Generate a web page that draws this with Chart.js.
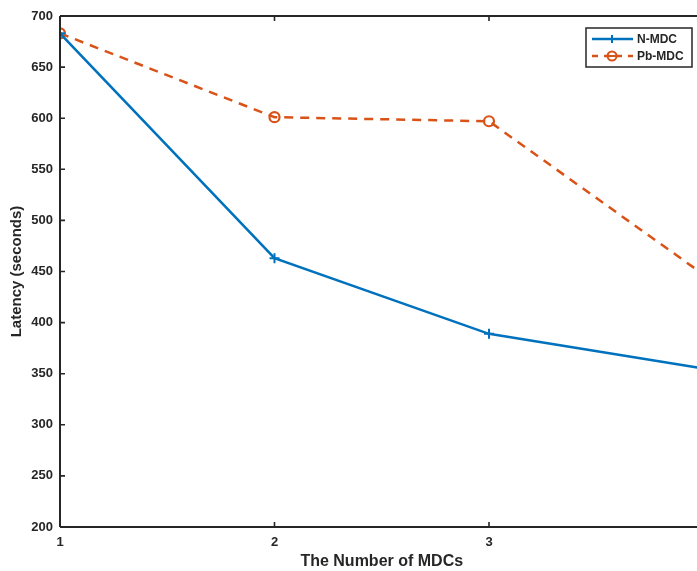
<!DOCTYPE html>
<html>
<head>
<meta charset="utf-8">
<script src="https://cdn.jsdelivr.net/npm/chart.js@4/dist/chart.umd.min.js"></script>
<style>
html,body{margin:0;padding:0;background:#fff;overflow:hidden;width:697px;height:571px;}
#wrap{position:absolute;left:0;top:0;width:720px;height:571px;}
</style>
</head>
<body>
<div id="wrap"><canvas id="c" width="720" height="571"></canvas></div>
<script>
const xValues = [1, 2, 3, 4];
const nMDC = [683, 463, 389, 355];
const pbMDC = [683, 601, 597, 447];
const seriesNames = ["N-MDC", "Pb-MDC"];
const yTicks = [200, 250, 300, 350, 400, 450, 500, 550, 600, 650, 700];
const xTicks = [1, 2, 3, 4];

const AX = '#262626';
const FONT = 'Arial, "Liberation Sans", Helvetica, sans-serif';

const boxPlugin = {
  id: 'matlabBox',
  afterDraw(chart) {
    const {ctx, chartArea: a, scales} = chart;
    ctx.save();
    ctx.strokeStyle = AX;
    ctx.lineWidth = 2;
    ctx.beginPath();
    ctx.moveTo(a.left, a.bottom); ctx.lineTo(a.right, a.bottom);
    ctx.moveTo(a.left, a.top); ctx.lineTo(a.right, a.top);
    ctx.moveTo(a.left, a.top); ctx.lineTo(a.left, a.bottom);
    ctx.moveTo(a.right, a.top); ctx.lineTo(a.right, a.bottom);
    ctx.stroke();
    ctx.lineWidth = 1.6;
    ctx.beginPath();
    const tl = 5;
    scales.x.ticks.forEach(t => {
      const px = scales.x.getPixelForValue(t.value);
      ctx.moveTo(px, a.bottom); ctx.lineTo(px, a.bottom - tl);
      ctx.moveTo(px, a.top); ctx.lineTo(px, a.top + tl);
    });
    scales.y.ticks.forEach(t => {
      const py = scales.y.getPixelForValue(t.value);
      ctx.moveTo(a.left, py); ctx.lineTo(a.left + tl, py);
      ctx.moveTo(a.right, py); ctx.lineTo(a.right - tl, py);
    });
    ctx.stroke();

    // legend
    const lx = 586, ly = 28, lw = 106, lh = 39;
    ctx.fillStyle = '#fff';
    ctx.fillRect(lx, ly, lw, lh);
    ctx.strokeStyle = AX;
    ctx.lineWidth = 1.5;
    ctx.strokeRect(lx, ly, lw, lh);
    const ds = chart.data.datasets;
    const rows = [ly + 11, ly + 28];
    ds.forEach((d, i) => {
      const y = rows[i];
      ctx.strokeStyle = d.borderColor;
      ctx.lineWidth = d.borderWidth;
      ctx.setLineDash(d.borderDash ? [6, 6] : []);
      ctx.beginPath();
      ctx.moveTo(lx + 6, y); ctx.lineTo(lx + 47, y);
      ctx.stroke();
      ctx.setLineDash([]);
      const cx = lx + 26;
      if (d.pointStyle === 'cross') {
        ctx.lineWidth = 2;
        ctx.beginPath();
        ctx.moveTo(cx - 4, y); ctx.lineTo(cx + 4, y);
        ctx.moveTo(cx, y - 4); ctx.lineTo(cx, y + 4);
        ctx.stroke();
      } else {
        ctx.lineWidth = 2;
        ctx.beginPath();
        ctx.arc(cx, y, 4.5, 0, Math.PI * 2);
        ctx.stroke();
        ctx.beginPath();
        ctx.moveTo(cx - 4, y); ctx.lineTo(cx + 4, y);
        ctx.stroke();
      }
      ctx.fillStyle = AX;
      ctx.font = 'bold 12px ' + FONT;
      ctx.textAlign = 'left';
      ctx.textBaseline = 'middle';
      ctx.fillText(d.label, lx + 51, y + 0.5);
    });
    ctx.restore();
  }
};

new Chart(document.getElementById('c'), {
  type: 'line',
  data: {
    datasets: [
      {
        label: seriesNames[0],
        data: xValues.map((x, i) => ({x, y: nMDC[i]})),
        borderColor: '#0072BD',
        backgroundColor: '#0072BD',
        borderWidth: 2.5,
        pointStyle: 'cross',
        pointRadius: 5,
        pointBorderWidth: 2,
        fill: false,
        tension: 0
      },
      {
        label: seriesNames[1],
        data: xValues.map((x, i) => ({x, y: pbMDC[i]})),
        borderColor: '#D95319',
        backgroundColor: 'rgba(0,0,0,0)',
        borderWidth: 2.5,
        borderDash: [9, 7],
        pointStyle: 'circle',
        pointRadius: 5,
        pointBorderWidth: 2.2,
        fill: false,
        tension: 0
      }
    ]
  },
  options: {
    responsive: false,
    animation: false,
    devicePixelRatio: 1,
    layout: {padding: {top: 16, right: 16.5, left: 0, bottom: 0}},
    plugins: {legend: {display: false}, tooltip: {enabled: false}},
    scales: {
      x: {
        type: 'linear',
        min: 1, max: 4,
        afterBuildTicks(s) { s.ticks = xTicks.map(v => ({value: v})); },
        afterFit(s) { s.height = 44; },
        grid: {display: false, drawTicks: false},
        border: {display: false},
        ticks: {color: AX, font: {family: FONT, size: 13, weight: 'bold'}, padding: 8},
        title: {display: true, text: 'The Number of MDCs', color: AX,
                font: {family: FONT, size: 16, weight: 'bold'}, padding: {top: 0, bottom: 0}}
      },
      y: {
        min: 200, max: 700,
        afterBuildTicks(s) { s.ticks = yTicks.map(v => ({value: v})); },
        afterFit(s) { s.width = 60; },
        grid: {display: false, drawTicks: false},
        border: {display: false},
        ticks: {color: AX, font: {family: FONT, size: 13, weight: 'bold'}, padding: 7},
        title: {display: true, text: 'Latency (seconds)', color: AX,
                font: {family: FONT, size: 15, weight: 'bold'}, padding: {top: 8, bottom: 0}}
      }
    }
  },
  plugins: [boxPlugin]
});
</script>
</body>
</html>
